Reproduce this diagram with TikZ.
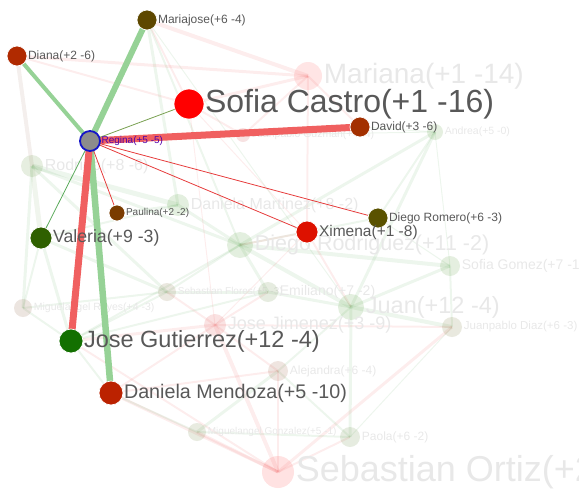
\documentclass[tikz,border=0pt]{standalone}
\usepackage{fontspec}
\setmainfont{Liberation Sans}
\pgfdeclarelayer{fundal}
\pgfdeclarelayer{mijloc}
\pgfdeclarelayer{sus}
\pgfsetlayers{fundal,mijloc,sus,main}
\newcommand{\marime}[1]{\fontsize{#1}{#1}\selectfont}

\begin{document}
\begin{tikzpicture}[x=1pt, y=-1pt]
            \tikzstyle{nod}  = [circle, draw=white, line width=0.7pt, inner sep=0pt]
            \tikzstyle{pal}  = [circle, draw=none, fill opacity=0.15, inner sep=0pt]
            \tikzstyle{eti}  = [anchor=west, inner sep=0.5pt, text=gri]
            \tikzstyle{etp}  = [anchor=west, inner sep=0.5pt, text=gri!14]
            \tikzstyle{lat}  = [line cap=butt, opacity=0.09]
            \tikzstyle{leg}  = [line cap=butt]

            \definecolor{gri}{RGB}{88,88,88}
            \definecolor{verde}{RGB}{150,210,150}
            \definecolor{rosu}{RGB}{240,96,96}
            \definecolor{vs}{RGB}{60,150,60}
            \definecolor{rs}{RGB}{230,60,60}

            \definecolor{cmar}{RGB}{255,80,80}
            \definecolor{crod}{RGB}{90,140,50}
            \definecolor{cjpg}{RGB}{200,60,60}
            \definecolor{cand}{RGB}{80,150,50}
            \definecolor{cdmr}{RGB}{70,150,40}
            \definecolor{cdrg}{RGB}{70,150,40}
            \definecolor{csgo}{RGB}{80,150,50}
            \definecolor{csfl}{RGB}{120,100,50}
            \definecolor{cemi}{RGB}{90,130,50}
            \definecolor{cjua}{RGB}{70,150,40}
            \definecolor{cmre}{RGB}{130,80,50}
            \definecolor{cjji}{RGB}{220,60,60}
            \definecolor{cjpd}{RGB}{110,110,40}
            \definecolor{cale}{RGB}{150,80,50}
            \definecolor{cmgo}{RGB}{100,120,50}
            \definecolor{cpao}{RGB}{90,130,50}
            \definecolor{csor}{RGB}{255,60,60}

            \definecolor{csof}{RGB}{255,0,0}
            \definecolor{cmjo}{RGB}{94,72,0}
            \definecolor{cdia}{RGB}{176,42,0}
            \definecolor{cdav}{RGB}{163,48,0}
            \definecolor{cpau}{RGB}{122,60,0}
            \definecolor{cdro}{RGB}{90,82,0}
            \definecolor{cxim}{RGB}{221,17,0}
            \definecolor{cval}{RGB}{47,96,0}
            \definecolor{cjgu}{RGB}{19,112,0}
            \definecolor{cdme}{RGB}{187,34,0}

            \clip (0,0) rectangle (579,496);

            % Persoanele estompate.
            \begin{pgfonlayer}{mijloc}
            \foreach \x/\y/\cod/\rz/\sz/\txt in {
                    308/76/mar/14/28/{Mariana(+1 -14)},
                    32/166/rod/11/16/{Rodrigo(+8 -6)},
                    243/135/jpg/7/10.5/{Juanpablo Guzman(+4 -4)},
                    435/132/and/8/10.5/{Andrea(+5 -0)},
                    178/205/dmr/11/16/{Daniela Martinez(+8 -2)},
                    240/245/drg/13/21.5/{Diego Rodriguez(+11 -2)},
                    450/266/sgo/10/14/{Sofia Gomez(+7 -1)},
                    167/292/sfl/9/10/{Sebastian Flores(+5 -3)},
                    268/292/emi/10/14/{Emiliano(+7 -2)},
                    351/307/jua/13/23.5/{Juan(+12 -4)},
                    23/308/mre/9/10.5/{Miguelangel Reyes(+4 -3)},
                    215/325/jji/11/18/{Jose Jimenez(+3 -9)},
                    452/327/jpd/10/11.5/{Juanpablo Diaz(+6 -3)},
                    278/371/ale/10/12/{Alejandra(+6 -4)},
                    197/432/mgo/9/10/{Miguelangel Gonzalez(+5 -1)},
                    350/437/pao/10/12/{Paola(+6 -2)},
                    278/472/sor/16/36/{Sebastian Ortiz(+2 -15)}
            } {
                \node[pal, minimum size={2*\rz pt}, fill=c\cod] (\cod) at (\x,\y) {};
                \node[etp, font=\marime{\sz}] (\cod-t) at ([xshift=1pt]\cod.east) {\txt};
            }
            \end{pgfonlayer}

            % Persoanele legate de Regina.
            \foreach \x/\y/\cod/\rz/\sz/\txt in {
                    189/104/sof/15/32/{Sofia Castro(+1 -16)},
                    147/20/mjo/10/12/{Mariajose(+6 -4)},
                    17/56/dia/10/12/{Diana(+2 -6)},
                    360/127/dav/10/12/{David(+3 -6)},
                    117/213/pau/8/10/{Paulina(+2 -2)},
                    378/218/dro/10/12/{Diego Romero(+6 -3)},
                    307/232/xim/11/15.5/{Ximena(+1 -8)},
                    41/238/val/11/17.7/{Valeria(+9 -3)},
                    71/341/jgu/12/23.5/{Jose Gutierrez(+12 -4)},
                    111/393/dme/12/19.7/{Daniela Mendoza(+5 -10)}
            } {
                \node[nod, minimum size={2*\rz pt}, fill=c\cod] (\cod) at (\x,\y) {};
                \node[eti, font=\marime{\sz}] (\cod-t) at (\cod.east) {\txt};
            }
            \node[nod, minimum size=20pt, fill=gray!90, draw={rgb,255:red,20;green,20;blue,200}, line width=1.8pt] (reg) at (90,141) {};
            \node[eti, font=\marime{10}, text={rgb,255:red,80;green,0;blue,170}] (reg-t) at (reg.east) {Regina(+5 -5)};

            \begin{pgfonlayer}{fundal}
            % Legaturile estompate.
            \foreach \a/\b/\cul/\w in {
                    rod/val/crod/5, rod/mre/vs/3, rod/dmr/vs/5, rod/sfl/vs/3, rod/drg/vs/3,
                    dia/rod/cmre/4, mjo/dmr/vs/3, mjo/drg/vs/2, mjo/jua/vs/1,
                    mjo/mar/rs/4, dia/mar/rs/3, dia/sof/rs/2, mjo/sof/rs/2, mar/sof/rs/3,
                    mar/dav/rs/2, mar/jpg/rs/2, mar/xim/rs/2, and/drg/vs/3, and/jua/vs/3,
                    and/sgo/vs/1, and/dro/vs/2, and/jpg/vs/1, dro/drg/vs/2, dro/sgo/vs/1,
                    drg/sgo/vs/4, drg/jua/vs/4, drg/emi/vs/3, drg/dmr/vs/3, drg/sfl/vs/2,
                    jua/sgo/vs/3, jua/jpd/vs/4, jua/emi/vs/3, jua/pao/vs/3, jua/ale/vs/2,
                    sgo/jpd/vs/2, jpd/pao/vs/1, jpd/sor/rs/3, jpd/jji/rs/2, sor/jji/rs/4,
                    sor/dme/rs/3, sor/mgo/rs/3, sor/pao/rs/2, sor/ale/rs/2, sor/jgu/rs/2,
                    jji/jgu/rs/3, jji/dme/rs/2, jji/emi/rs/2, jji/sfl/rs/2, jji/ale/rs/2,
                    mgo/ale/vs/3, mgo/pao/vs/2, mgo/dme/vs/2, pao/ale/vs/2, emi/sfl/vs/3,
                    sfl/mre/vs/2, sfl/val/vs/3, sfl/jgu/vs/2, mre/val/vs/2, mre/jgu/vs/2,
                    val/dmr/vs/2, jgu/dme/vs/2, jgu/emi/vs/2, jgu/drg/vs/2, dme/ale/rs/2,
                    pau/dmr/vs/2, xim/drg/rs/2, xim/jua/rs/2, xim/jji/rs/1, dav/jpg/rs/3,
                    dav/and/vs/1, sof/jpg/rs/2, sof/xim/rs/1, sof/jji/rs/1, val/jgu/vs/3
            } {
                \draw[lat, draw=\cul, line width=\w pt] (\a.center) -- (\b.center);
            }
            \end{pgfonlayer}

            % Legaturile Reginei.
            \begin{pgfonlayer}{sus}
            \draw[leg, draw=verde, line width=6pt] (reg.center) -- (mjo.center);
            \draw[leg, draw=verde, line width=4pt] (reg.center) -- (dia.center);
            \draw[leg, draw=verde, line width=6.5pt] (reg.center) -- (dme.center);
            \draw[leg, draw=rosu, line width=7pt] (reg.center) -- (dav.center);
            \draw[leg, draw=rosu, line width=7pt] (reg.center) -- (jgu.center);
            \draw[leg, draw={rgb,255:red,120;green,160;blue,80}, line width=0.8pt] (reg.center) -- (sof.center);
            \draw[leg, draw={rgb,255:red,90;green,170;blue,90}, line width=0.8pt] (reg.center) -- (val.center);
            \foreach \b in {pau, xim, dro}
                \draw[leg, draw=rs, line width=0.8pt] (reg.center) -- (\b.center);
            \end{pgfonlayer}

        \end{tikzpicture}
\end{document}
